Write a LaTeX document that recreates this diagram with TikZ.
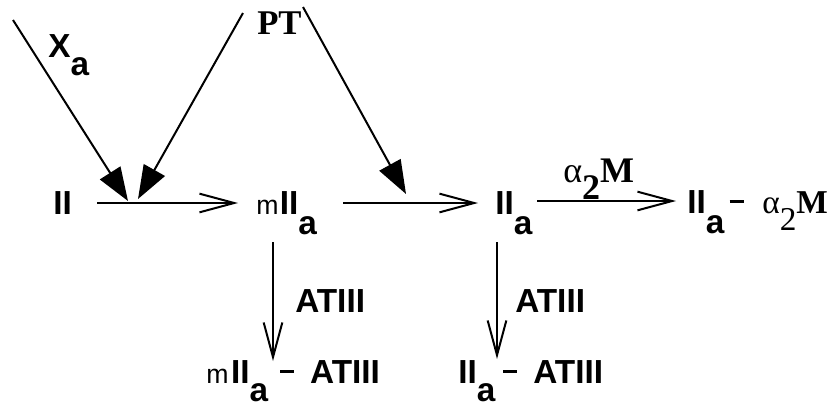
\documentclass[tikz,border=0pt]{standalone}
\usepackage{fontspec}
\setmainfont{Liberation Serif}
\setsansfont{Liberation Sans}
\usetikzlibrary{arrows.meta}
\newcommand\lsub[2][15pt]{\raisebox{-#1}{#2}}
\newcommand\mdash[1][5pt]{\hspace{#1}\rule[7.5pt]{10.5pt}{2.6pt}}
\newcommand\smm{{\fontsize{20}{22}\selectfont\mdseries m}}
\begin{document}
\begin{tikzpicture}[x=0.75pt,y=-0.75pt,
 lab/.style={font=\fontsize{25}{28}\selectfont\sffamily\bfseries, inner sep=0pt, anchor=base west},
 ser/.style={font=\fontsize{27}{30}\selectfont\rmfamily, inner sep=0pt, anchor=base west},
 openarr/.style={line width=1.5pt, -{Straight Barb[length=26pt,width=14pt,line width=1.5pt]}},
 fillarr/.style={line width=1.5pt, -{Triangle[length=25pt,width=18pt]}}]
\useasboundingbox (0,0) rectangle (834,408);
% nodes
\node[lab] (II) at (53,214) {II};
\node[lab] (mIIa) at (256,214) {\smm\hspace{1pt}II\lsub{a}};
\node[lab] (IIa) at (495,214) {II\lsub{a}};
\node[lab] (IIaM) at (687,213) {II\lsub{a}\mdash[4pt]\hspace{14pt}{\rmfamily\mdseries α\lsub[13pt]{2}\bfseries M}};
\node[lab] (mIIaAT) at (206,383) {\smm\hspace{2pt}II\lsub[14pt]{a}\mdash[9pt]\hspace{12pt}ATIII};
\node[lab] (IIaAT) at (458,383) {II\lsub[14pt]{a}\mdash[6pt]\hspace{12pt}ATIII};
\node[lab] (AT1) at (295,312) {ATIII};
\node[lab] (AT2) at (515,312) {ATIII};
\node[ser] (aM) at (563,182) {α\lsub[13pt]{\bfseries 2}\bfseries M};
\node[ser, font=\fontsize{26}{28}\selectfont\rmfamily\bfseries] (PT) at (257,34) {PT};
\node[lab] (Xa) at (48,57) {X\lsub[14pt]{a}};
% coordinates
\coordinate (h1s) at (97,203);
\coordinate (h1e) at (238,203);
\coordinate (h2s) at (343,203);
\coordinate (h2e) at (478,203);
\coordinate (h3s) at (537,201);
\coordinate (h3e) at (676,201);
\coordinate (v1s) at (273,242);
\coordinate (v1e) at (273,361);
\coordinate (v2s) at (497,242);
\coordinate (v2e) at (497,359);
\coordinate (d1s) at (13,20);
\coordinate (d1e) at (128,201);
\coordinate (d2s) at (243,13);
\coordinate (d2e) at (138,199);
\coordinate (d3s) at (303,7);
\coordinate (d3e) at (406,194);
% connectors
\draw[openarr] (h1s) -- (h1e);
\draw[openarr] (h2s) -- (h2e);
\draw[openarr] (h3s) -- (h3e);
\draw[openarr] (v1s) -- (v1e);
\draw[openarr] (v2s) -- (v2e);
\draw[fillarr] (d1s) -- (d1e);
\draw[fillarr] (d2s) -- (d2e);
\draw[fillarr] (d3s) -- (d3e);
\end{tikzpicture}
\end{document}
